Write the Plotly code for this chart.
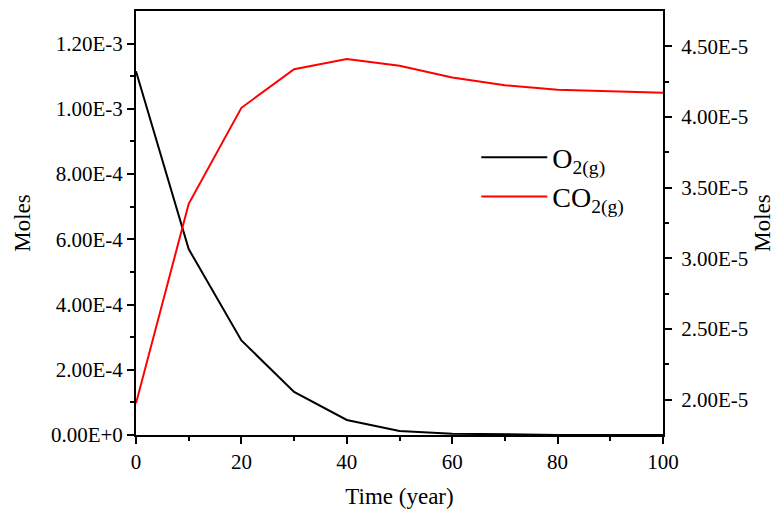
import plotly.graph_objects as go

time_years = [0, 10, 20, 30, 40, 50, 60, 70, 80, 90, 100]
o2_moles = [1.115e-3, 5.70e-4, 2.90e-4, 1.32e-4, 4.6e-5, 1.2e-5, 4e-6, 1e-6, 3e-7, 1e-7, 0.0]
co2_moles = [1.974e-5, 3.386e-5, 4.065e-5, 4.338e-5, 4.411e-5, 4.362e-5, 4.280e-5,
             4.224e-5, 4.193e-5, 4.182e-5, 4.172e-5]

left_tickvals = [0, 2e-4, 4e-4, 6e-4, 8e-4, 1.0e-3, 1.2e-3]
left_ticktext = ["0.00E+0", "2.00E-4", "4.00E-4", "6.00E-4", "8.00E-4", "1.00E-3", "1.20E-3"]
left_minorvals = [1e-4, 3e-4, 5e-4, 7e-4, 9e-4, 1.1e-3]
right_tickvals = [2.0e-5, 2.5e-5, 3.0e-5, 3.5e-5, 4.0e-5, 4.5e-5]
right_ticktext = ["2.00E-5", "2.50E-5", "3.00E-5", "3.50E-5", "4.00E-5", "4.50E-5"]
right_minorvals = [2.25e-5, 2.75e-5, 3.25e-5, 3.75e-5, 4.25e-5]

FONT = "Liberation Serif, Times New Roman, serif"

fig = go.Figure()
fig.add_trace(go.Scatter(x=time_years, y=o2_moles, mode="lines", name="O<sub>2(g)</sub>",
                         line=dict(color="black", width=2), yaxis="y"))
fig.add_trace(go.Scatter(x=time_years, y=co2_moles, mode="lines", name="CO<sub>2(g)</sub>",
                         line=dict(color="#ff0000", width=2), yaxis="y2"))

axis_common = dict(showline=True, linecolor="black", linewidth=2, ticks="outside",
                   tickcolor="black", tickwidth=2, ticklen=7, showgrid=False, zeroline=False,
                   tickfont=dict(family=FONT, size=21, color="black"))

fig.update_layout(
    width=780, height=517,
    margin=dict(l=136, r=115, t=9, b=82),
    paper_bgcolor="white", plot_bgcolor="white",
    font=dict(family=FONT, size=21, color="black"),
    xaxis=dict(range=[0, 100], tickvals=[0, 20, 40, 60, 80, 100], mirror=True,
               minor=dict(tickvals=[10, 30, 50, 70, 90], ticks="outside", ticklen=4,
                          tickcolor="black", tickwidth=2),
               title=dict(text="Time (year)", font=dict(family=FONT, size=23), standoff=15),
               **axis_common),
    yaxis=dict(range=[0, 1.3e-3], tickmode="array", tickvals=left_tickvals, ticktext=left_ticktext,
               minor=dict(tickvals=left_minorvals, ticks="outside", ticklen=4,
                          tickcolor="black", tickwidth=2),
               title=dict(text="Moles", font=dict(family=FONT, size=23), standoff=14),
               **axis_common),
    yaxis2=dict(range=[1.75e-5, 4.75e-5], overlaying="y", side="right", tickmode="array",
                tickvals=right_tickvals, ticktext=right_ticktext, ticklabelstandoff=5,
                minor=dict(tickvals=right_minorvals, ticks="outside", ticklen=4,
                           tickcolor="black", tickwidth=2),
                title=dict(text="Moles", font=dict(family=FONT, size=23), standoff=7),
                **axis_common),
    legend=dict(x=0.6457, y=0.7136, xanchor="left", yanchor="top", bgcolor="rgba(0,0,0,0)",
                font=dict(family=FONT, size=28), itemwidth=66, tracegroupgap=0),
    showlegend=True,
)

fig.write_html("out.html", config={"displayModeBar": False},
               post_script="document.body.style.margin='0';")
